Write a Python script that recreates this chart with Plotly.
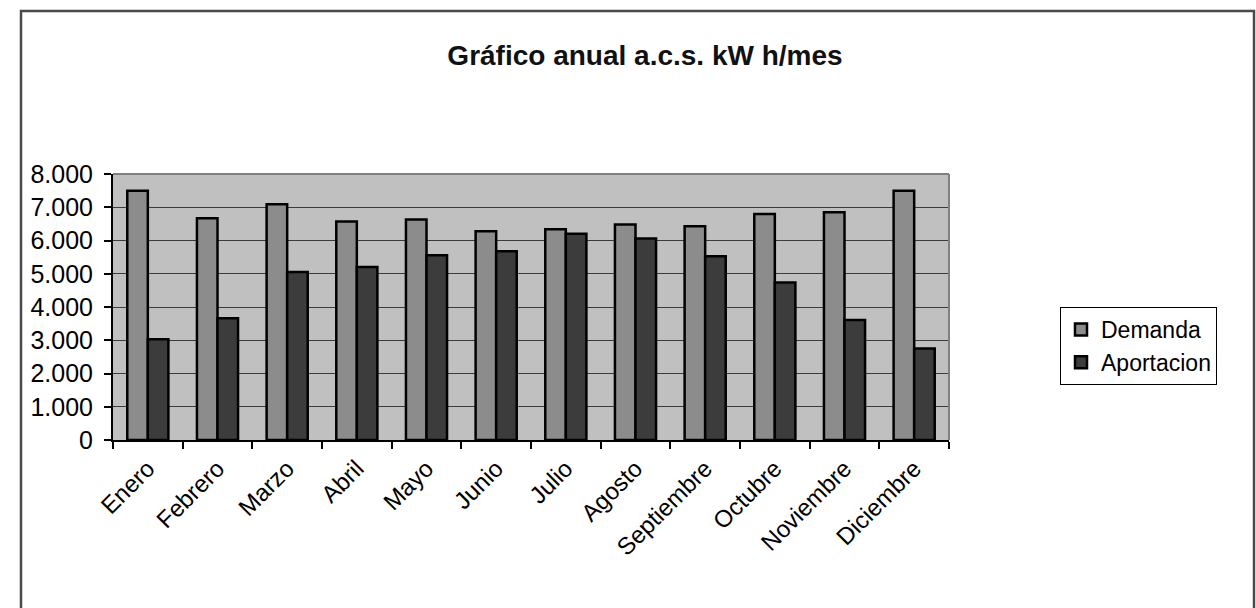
import plotly.graph_objects as go

# Monthly domestic hot water energy (kWh/month)
meses = ["Enero", "Febrero", "Marzo", "Abril", "Mayo", "Junio", "Julio",
         "Agosto", "Septiembre", "Octubre", "Noviembre", "Diciembre"]
demanda = [7500, 6670, 7090, 6570, 6630, 6280, 6340, 6480, 6430, 6800, 6850, 7500]
aportacion = [3030, 3660, 5050, 5200, 5560, 5680, 6200, 6060, 5530, 4740, 3610, 2750]

W, H = 1256, 608
# plot-area edges in pixels
PL, PR, PT, PB = 113, 949, 174, 440
FONT = "Arial, Liberation Sans, sans-serif"


def px_x(x):
    return (x - PL) / (PR - PL)


def px_y(y):
    return (PB - y) / (PB - PT)


fig = go.Figure()
fig.add_trace(go.Bar(
    x=meses, y=demanda, name="Demanda", legendgroup="d",
    marker=dict(color="#8c8c8c", line=dict(color="#000000", width=2.5)),
))
fig.add_trace(go.Bar(
    x=meses, y=aportacion, name="Aportacion", legendgroup="a",
    marker=dict(color="#3c3c3c", line=dict(color="#000000", width=2.5)),
))

fig.update_layout(
    width=W, height=H,
    margin=dict(l=PL, r=W - PR, t=PT, b=H - PB),
    paper_bgcolor="#ffffff",
    plot_bgcolor="#c0c0c0",
    separators=",.",
    barmode="group", bargap=0.41, bargroupgap=0,
    font=dict(family=FONT, color="#000000"),
    title=dict(
        text="<b>Gráfico anual a.c.s. kW h/mes</b>",
        x=645 / W, xanchor="center", xref="container",
        y=1 - 55 / H, yanchor="middle", yref="container",
        font=dict(family=FONT, size=28, color="#111111"),
    ),
    legend=dict(
        x=px_x(1060), y=px_y(307), xanchor="left", yanchor="top",
        bgcolor="#ffffff", bordercolor="#000000", borderwidth=1,
        font=dict(family=FONT, size=23, color="#000000"),
        tracegroupgap=16, traceorder="normal",
    ),
    showlegend=True,
)

fig.update_xaxes(
    type="category", tickson="boundaries",
    ticks="outside", ticklen=7, tickcolor="#000000", tickwidth=1.5,
    tickangle=-45, tickfont=dict(family=FONT, size=24, color="#000000"),
    ticklabelstandoff=3,
    showline=True, linecolor="#000000", linewidth=2,
    showgrid=False, zeroline=False,
)
fig.update_yaxes(
    range=[0, 8000], dtick=1000, tickformat=",.0f",
    ticks="outside", ticklen=7, tickcolor="#000000", tickwidth=1.5,
    tickfont=dict(family=FONT, size=25, color="#000000"),
    ticklabelstandoff=6,
    showline=True, linecolor="#000000", linewidth=2,
    showgrid=True, gridcolor="#3c3c3c", gridwidth=1.3,
    zeroline=False,
)

# gray plot-area frame on the top and right sides
fig.add_shape(type="line", xref="paper", yref="paper", x0=0, x1=1, y0=1, y1=1,
              line=dict(color="#808080", width=2))
fig.add_shape(type="line", xref="paper", yref="paper", x0=1, x1=1, y0=0, y1=1,
              line=dict(color="#808080", width=2))

# chart-area border
fig.add_shape(type="rect", xref="paper", yref="paper",
              x0=px_x(21), x1=px_x(1254), y0=px_y(630), y1=px_y(11),
              line=dict(color="#4a4a4a", width=2.5), fillcolor="rgba(0,0,0,0)")

fig.write_html("out.html")
